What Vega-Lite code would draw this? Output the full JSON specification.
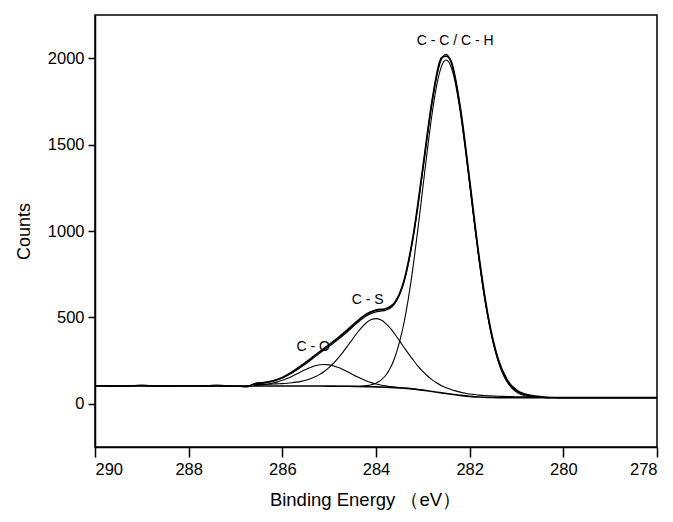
{
  "$schema": "https://vega.github.io/schema/vega-lite/v6.json",
  "autosize": "none",
  "width": 562,
  "height": 432,
  "padding": {"left": 95, "top": 15, "right": 16, "bottom": 75},
  "background": "white",
  "datasets": {
    "bg": [
      {"E": 290, "y": 103}, {"E": 288, "y": 103}, {"E": 287, "y": 103}, {"E": 285.5, "y": 103},
      {"E": 285.2, "y": 102.8}, {"E": 285.0, "y": 102.5}, {"E": 284.8, "y": 101.9}, {"E": 284.6, "y": 101.3},
      {"E": 284.4, "y": 100.5}, {"E": 284.2, "y": 99.4}, {"E": 284.0, "y": 98}, {"E": 283.8, "y": 96},
      {"E": 283.6, "y": 93.5}, {"E": 283.4, "y": 90}, {"E": 283.2, "y": 86}, {"E": 283.0, "y": 79},
      {"E": 282.8, "y": 71}, {"E": 282.6, "y": 63}, {"E": 282.4, "y": 56}, {"E": 282.2, "y": 49},
      {"E": 282.0, "y": 43}, {"E": 281.8, "y": 39}, {"E": 281.6, "y": 37}, {"E": 281.4, "y": 36},
      {"E": 281.2, "y": 35.2}, {"E": 281.0, "y": 35}, {"E": 280, "y": 35}, {"E": 278, "y": 35}
    ],
    "raw": [
      {"E": 290, "y": 104}, {"E": 289.6, "y": 103}, {"E": 289.2, "y": 104}, {"E": 289.0, "y": 107},
      {"E": 288.8, "y": 103}, {"E": 288.4, "y": 103}, {"E": 288.0, "y": 104}, {"E": 287.6, "y": 103},
      {"E": 287.4, "y": 106}, {"E": 287.2, "y": 103}, {"E": 286.9, "y": 102}, {"E": 286.8, "y": 100},
      {"E": 286.7, "y": 103}, {"E": 286.6, "y": 116}, {"E": 286.4, "y": 123}, {"E": 286.2, "y": 133},
      {"E": 286.0, "y": 152}, {"E": 285.8, "y": 182}, {"E": 285.6, "y": 220}, {"E": 285.4, "y": 260},
      {"E": 285.2, "y": 302}, {"E": 285.0, "y": 342}, {"E": 284.8, "y": 384}, {"E": 284.6, "y": 430},
      {"E": 284.4, "y": 478}, {"E": 284.2, "y": 520}, {"E": 284.0, "y": 542}, {"E": 283.8, "y": 550},
      {"E": 283.6, "y": 586}, {"E": 283.4, "y": 714}, {"E": 283.2, "y": 980}, {"E": 283.0, "y": 1362},
      {"E": 282.8, "y": 1756}, {"E": 282.6, "y": 2003}, {"E": 282.5, "y": 2012}, {"E": 282.4, "y": 1985},
      {"E": 282.2, "y": 1712}, {"E": 282.0, "y": 1290}, {"E": 281.8, "y": 850}, {"E": 281.6, "y": 497},
      {"E": 281.4, "y": 265}, {"E": 281.2, "y": 138}, {"E": 281.0, "y": 78}, {"E": 280.8, "y": 54},
      {"E": 280.6, "y": 44}, {"E": 280.4, "y": 38}, {"E": 280.2, "y": 36}, {"E": 280.0, "y": 35},
      {"E": 279.5, "y": 35}, {"E": 279.0, "y": 35}, {"E": 278.5, "y": 35}, {"E": 278.0, "y": 35}
    ],
    "env": [
      {"E": 286.6, "y": 114.0}, {"E": 286.5, "y": 116.6}, {"E": 286.4, "y": 120.1}, {"E": 286.3, "y": 124.9},
      {"E": 286.2, "y": 131.1}, {"E": 286.1, "y": 139.4}, {"E": 286.0, "y": 149.8}, {"E": 285.9, "y": 162.4},
      {"E": 285.8, "y": 177.2}, {"E": 285.7, "y": 194.1}, {"E": 285.6, "y": 212.6}, {"E": 285.5, "y": 232.2},
      {"E": 285.4, "y": 252.6}, {"E": 285.3, "y": 273.1}, {"E": 285.2, "y": 293.2}, {"E": 285.1, "y": 313.4},
      {"E": 285.0, "y": 333.4}, {"E": 284.9, "y": 353.7}, {"E": 284.8, "y": 374.7}, {"E": 284.7, "y": 396.7},
      {"E": 284.6, "y": 420.0}, {"E": 284.5, "y": 444.5}, {"E": 284.4, "y": 468.2}, {"E": 284.3, "y": 490.5},
      {"E": 284.2, "y": 509.3}, {"E": 284.1, "y": 523.0}, {"E": 284.0, "y": 531.5}, {"E": 283.9, "y": 536.0},
      {"E": 283.8, "y": 541.0}, {"E": 283.7, "y": 553.0}, {"E": 283.6, "y": 580.2}, {"E": 283.5, "y": 630.7},
      {"E": 283.4, "y": 709.0}, {"E": 283.3, "y": 824.8}, {"E": 283.2, "y": 975.4}, {"E": 283.1, "y": 1157.0},
      {"E": 283.0, "y": 1358.0}, {"E": 282.9, "y": 1561.7}, {"E": 282.8, "y": 1750.5}, {"E": 282.7, "y": 1901.1},
      {"E": 282.6, "y": 1995.9}, {"E": 282.5, "y": 2022.8}, {"E": 282.4, "y": 1977.9}, {"E": 282.3, "y": 1869.7},
      {"E": 282.2, "y": 1706.6}, {"E": 282.1, "y": 1506.0}, {"E": 282.0, "y": 1283.0}, {"E": 281.9, "y": 1057.5},
      {"E": 281.8, "y": 844.2}, {"E": 281.7, "y": 652.3}, {"E": 281.6, "y": 491.4}, {"E": 281.5, "y": 362.2},
      {"E": 281.4, "y": 261.0}, {"E": 281.3, "y": 186.0}, {"E": 281.2, "y": 132.8}, {"E": 281.1, "y": 97.1},
      {"E": 281.0, "y": 73.9}, {"E": 280.9, "y": 59.5}, {"E": 280.8, "y": 50.8}, {"E": 280.7, "y": 45.6},
      {"E": 280.6, "y": 42.7}
    ],
    "co": [
      {"E": 286.6, "y": 106.0}, {"E": 286.5, "y": 107.9}, {"E": 286.4, "y": 110.7}, {"E": 286.3, "y": 114.6},
      {"E": 286.2, "y": 119.9}, {"E": 286.1, "y": 126.9}, {"E": 286.0, "y": 135.8}, {"E": 285.9, "y": 146.4},
      {"E": 285.8, "y": 158.6}, {"E": 285.7, "y": 171.9}, {"E": 285.6, "y": 185.7}, {"E": 285.5, "y": 198.9},
      {"E": 285.4, "y": 210.7}, {"E": 285.3, "y": 220.0}, {"E": 285.2, "y": 225.7}, {"E": 285.1, "y": 227.7},
      {"E": 285.0, "y": 225.4}, {"E": 284.9, "y": 219.2}, {"E": 284.8, "y": 209.6}, {"E": 284.7, "y": 197.5},
      {"E": 284.6, "y": 184.0}, {"E": 284.5, "y": 169.9}, {"E": 284.4, "y": 156.1}, {"E": 284.3, "y": 143.4},
      {"E": 284.2, "y": 132.2}, {"E": 284.1, "y": 122.6}, {"E": 284.0, "y": 114.9}, {"E": 283.9, "y": 108.6},
      {"E": 283.8, "y": 103.7}, {"E": 283.7, "y": 99.9}, {"E": 283.6, "y": 96.5}, {"E": 283.5, "y": 93.8},
      {"E": 283.4, "y": 91.0}, {"E": 283.3, "y": 88.6}, {"E": 283.2, "y": 86.3}, {"E": 283.0, "y": 79}
    ],
    "cs": [
      {"E": 286.6, "y": 111.0}, {"E": 286.5, "y": 111.7}, {"E": 286.4, "y": 112.4}, {"E": 286.3, "y": 113.3},
      {"E": 286.2, "y": 114.2}, {"E": 286.1, "y": 115.5}, {"E": 286.0, "y": 117.0}, {"E": 285.9, "y": 119.0},
      {"E": 285.8, "y": 121.6}, {"E": 285.7, "y": 125.2}, {"E": 285.6, "y": 129.9}, {"E": 285.5, "y": 136.3},
      {"E": 285.4, "y": 144.9}, {"E": 285.3, "y": 156.1}, {"E": 285.2, "y": 170.3}, {"E": 285.1, "y": 188.4},
      {"E": 285.0, "y": 210.5}, {"E": 284.9, "y": 236.7}, {"E": 284.8, "y": 267.0}, {"E": 284.7, "y": 300.8},
      {"E": 284.6, "y": 337.3}, {"E": 284.5, "y": 374.9}, {"E": 284.4, "y": 411.2}, {"E": 284.3, "y": 444.1},
      {"E": 284.2, "y": 470.5}, {"E": 284.1, "y": 487.5}, {"E": 284.0, "y": 493.0}, {"E": 283.9, "y": 485.8},
      {"E": 283.8, "y": 467.1}, {"E": 283.7, "y": 439.1}, {"E": 283.6, "y": 404.2}, {"E": 283.5, "y": 365.9},
      {"E": 283.4, "y": 326.0}, {"E": 283.3, "y": 287.2}, {"E": 283.2, "y": 251.1}, {"E": 283.1, "y": 217.0},
      {"E": 283.0, "y": 187.0}, {"E": 282.9, "y": 160.7}, {"E": 282.8, "y": 138.5}, {"E": 282.7, "y": 120.1},
      {"E": 282.6, "y": 104.9}, {"E": 282.5, "y": 92.8}, {"E": 282.4, "y": 82.9}, {"E": 282.3, "y": 74.7},
      {"E": 282.2, "y": 67.6}, {"E": 282.1, "y": 62.0}, {"E": 282.0, "y": 57.0}, {"E": 281.9, "y": 53.5},
      {"E": 281.8, "y": 50.2}, {"E": 281.7, "y": 48.3}, {"E": 281.6, "y": 46.4}, {"E": 281.5, "y": 45.2},
      {"E": 281.4, "y": 44.0}, {"E": 281.3, "y": 43.0}, {"E": 281.2, "y": 42.2}, {"E": 281.1, "y": 41.5},
      {"E": 281.0, "y": 41.1}, {"E": 280.8, "y": 40.5}, {"E": 280.6, "y": 39.9}
    ],
    "cc": [
      {"E": 284.8, "y": 101.9}, {"E": 284.6, "y": 101.3}, {"E": 284.5, "y": 101.7}, {"E": 284.4, "y": 101.9},
      {"E": 284.3, "y": 103.0}, {"E": 284.2, "y": 105.4}, {"E": 284.1, "y": 110.3}, {"E": 284.0, "y": 119.6},
      {"E": 283.9, "y": 135.6}, {"E": 283.8, "y": 162.2}, {"E": 283.7, "y": 204.0}, {"E": 283.6, "y": 266.5},
      {"E": 283.5, "y": 355.0}, {"E": 283.4, "y": 472.0}, {"E": 283.3, "y": 625.0}, {"E": 283.2, "y": 810.0},
      {"E": 283.1, "y": 1022.5}, {"E": 283.0, "y": 1250.0}, {"E": 282.9, "y": 1476.0}, {"E": 282.8, "y": 1683.0},
      {"E": 282.7, "y": 1848.0}, {"E": 282.6, "y": 1954.0}, {"E": 282.5, "y": 1989.5}, {"E": 282.4, "y": 1951.0},
      {"E": 282.3, "y": 1847.5}, {"E": 282.2, "y": 1688.0}, {"E": 282.1, "y": 1490.0}, {"E": 282.0, "y": 1269.0},
      {"E": 281.9, "y": 1045.0}, {"E": 281.8, "y": 833.0}, {"E": 281.7, "y": 642.0}, {"E": 281.6, "y": 485.0},
      {"E": 281.5, "y": 353.5}, {"E": 281.4, "y": 253.0}, {"E": 281.3, "y": 178.5}, {"E": 281.2, "y": 125.8},
      {"E": 281.1, "y": 90.6}, {"E": 281.0, "y": 67.8}, {"E": 280.9, "y": 53.7}, {"E": 280.8, "y": 45.3},
      {"E": 280.7, "y": 40.4}, {"E": 280.6, "y": 37.8}
    ],
    "labels": [
      {"E": 282.31, "y": 2102, "t": "C - C / C - H"},
      {"E": 284.18, "y": 599, "t": "C - S"},
      {"E": 285.34, "y": 331, "t": "C - O"}
    ]
  },
  "encoding": {
    "x": {
      "field": "E", "type": "quantitative",
      "scale": {"domain": [278, 290], "reverse": true, "nice": false, "zero": false},
      "axis": {
        "values": [278, 280, 282, 284, 286, 288, 290], "format": "d",
        "tickSize": 10, "labelPadding": 4,
        "title": "Binding Energy （eV）", "titleFontSize": 18.5, "titlePadding": 13, "titleX": 270
      }
    },
    "y": {
      "field": "y", "type": "quantitative",
      "scale": {"domain": [-250, 2250], "nice": false, "zero": false},
      "axis": {
        "values": [0, 500, 1000, 1500, 2000], "format": "d",
        "tickSize": 7, "labelPadding": 4,
        "title": "Counts", "titleFontSize": 18, "titlePadding": 14
      }
    }
  },
  "layer": [
    {"data": {"name": "bg"}, "mark": {"type": "line", "color": "#000", "strokeWidth": 1.6, "interpolate": "monotone"}},
    {"data": {"name": "co"}, "mark": {"type": "line", "color": "#000", "strokeWidth": 1.1, "interpolate": "monotone"}},
    {"data": {"name": "cs"}, "mark": {"type": "line", "color": "#000", "strokeWidth": 1.1, "interpolate": "monotone"}},
    {"data": {"name": "cc"}, "mark": {"type": "line", "color": "#000", "strokeWidth": 1.1, "interpolate": "monotone"}},
    {"data": {"name": "env"}, "mark": {"type": "line", "color": "#000", "strokeWidth": 1.2, "interpolate": "monotone"}},
    {"data": {"name": "raw"}, "mark": {"type": "line", "color": "#000", "strokeWidth": 1.8, "interpolate": "monotone"}},
    {
      "data": {"name": "labels"},
      "mark": {"type": "text", "font": "Liberation Sans", "fontSize": 14, "color": "#000", "align": "center", "baseline": "middle"},
      "encoding": {"text": {"field": "t"}}
    }
  ],
  "config": {
    "view": {"stroke": "#000", "strokeWidth": 1.5},
    "axis": {
      "grid": false,
      "domainColor": "#000", "domainWidth": 1.5,
      "tickColor": "#000", "tickWidth": 1.5,
      "labelColor": "#000", "titleColor": "#000",
      "labelFont": "Liberation Sans", "titleFont": "Liberation Sans",
      "labelFontSize": 16.5, "titleFontSize": 17, "titleFontWeight": "normal"
    }
  }
}
